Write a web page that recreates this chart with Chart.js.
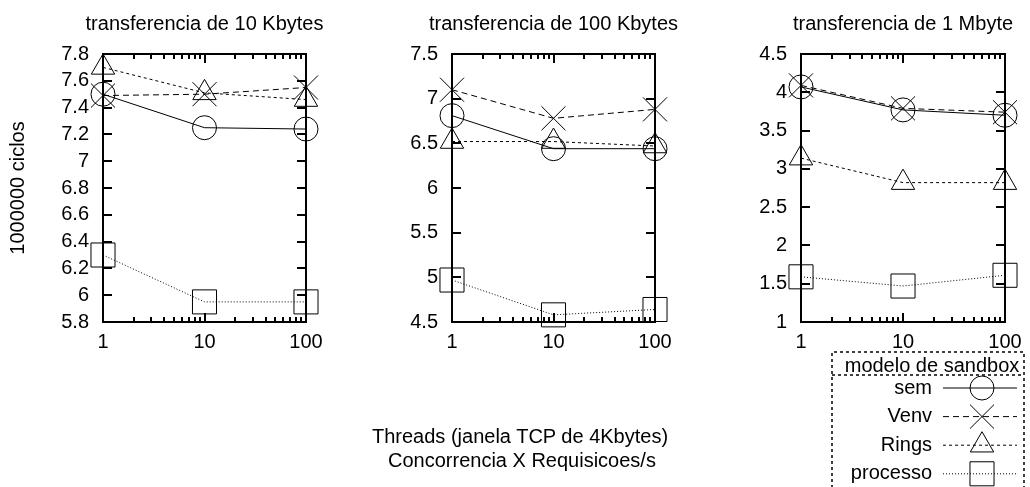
<!DOCTYPE html>
<html>
<head>
<meta charset="utf-8">
<script src="https://cdn.jsdelivr.net/npm/chart.js@4.4.1/dist/chart.umd.min.js"></script>
<style>
  html, body { margin: 0; padding: 0; background: #fff; overflow: hidden; width: 1030px; height: 487px; }
  canvas { position: absolute; top: 0; }
  .xtitle { position: absolute; font: 20px "Liberation Sans", Arial, sans-serif; line-height: 24px; white-space: pre; color: #000; }
</style>
</head>
<body>
<canvas id="c1" width="409" height="487" style="left:0px"></canvas>
<canvas id="c2" width="409" height="487" style="left:349px"></canvas>
<canvas id="c3" width="410" height="487" style="left:698px"></canvas>
<div class="xtitle" style="left:372px;top:424px">Threads (janela TCP de 4Kbytes)</div>
<div class="xtitle" style="left:388px;top:448px">Concorrencia X Requisicoes/s</div>
<script>
// x values and ticks (log axis)
const threads = [1, 10, 100];
const xTickLabels = [1, 10, 100];
const xMinorTicks = [2, 3, 4, 5, 6, 7, 8, 9, 20, 30, 40, 50, 60, 70, 80, 90];
const seriesNames = ['sem', 'Venv', 'Rings', 'processo'];

// transferencia de 10 Kbytes
const sem10k = [7.50, 7.25, 7.24];
const venv10k = [7.49, 7.50, 7.55];
const rings10k = [7.70, 7.51, 7.46];
const processo10k = [6.30, 5.95, 5.95];
const yTicks10k = [5.8, 6, 6.2, 6.4, 6.6, 6.8, 7, 7.2, 7.4, 7.6, 7.8];

// transferencia de 100 Kbytes
const sem100k = [6.81, 6.44, 6.44];
const venv100k = [7.10, 6.78, 6.88];
const rings100k = [6.52, 6.52, 6.47];
const processo100k = [4.97, 4.58, 4.64];
const yTicks100k = [4.5, 5, 5.5, 6, 6.5, 7, 7.5];

// transferencia de 1 Mbyte
const sem1m = [4.07, 3.77, 3.70];
const venv1m = [4.09, 3.79, 3.74];
const rings1m = [3.14, 2.82, 2.82];
const processo1m = [1.59, 1.47, 1.61];
const yTicks1m = [1, 1.5, 2, 2.5, 3, 3.5, 4, 4.5];

Chart.defaults.font.family = '"Liberation Sans", Arial, sans-serif';
Chart.defaults.font.size = 20;
Chart.defaults.color = '#000';

// gnuplot-ish look per series
const pointStyles = ['circle', 'crossRot', 'triangle', 'rect'];
const pointSizes = [12, 17, 13.5, 17];
const lineDashes = [[], [6, 4], [3, 3], [1, 2]];

// frame + inward ticks, like gnuplot's border
const frameTicks = {
  id: 'frameTicks',
  beforeDatasetsDraw(chart) {
    const {ctx, chartArea: a, scales: {x, y}} = chart;
    ctx.save();
    ctx.strokeStyle = '#000';
    ctx.lineWidth = 2;
    ctx.beginPath();
    y.ticks.forEach(t => {
      const py = Math.round(y.getPixelForValue(t.value));
      ctx.moveTo(a.left, py); ctx.lineTo(a.left + 9, py);
      ctx.moveTo(a.right, py); ctx.lineTo(a.right - 9, py);
    });
    x.ticks.forEach(t => {
      const px = Math.round(x.getPixelForValue(t.value));
      ctx.moveTo(px, a.bottom); ctx.lineTo(px, a.bottom - 9);
      ctx.moveTo(px, a.top); ctx.lineTo(px, a.top + 9);
    });
    xMinorTicks.forEach(v => {
      const px = Math.round(x.getPixelForValue(v));
      ctx.moveTo(px, a.bottom); ctx.lineTo(px, a.bottom - 5);
      ctx.moveTo(px, a.top); ctx.lineTo(px, a.top + 5);
    });
    ctx.stroke();
    ctx.strokeRect(a.left, a.top, a.width, a.height);
    ctx.restore();
  }
};

// key box drawn under the third panel (canvas starts at page x 698)
const sandboxLegend = {
  id: 'sandboxLegend',
  afterDraw(chart) {
    const ctx = chart.ctx;
    const boxL = 134, boxR = 326, boxT = 352, sepY = 375;
    ctx.save();
    ctx.strokeStyle = '#000';
    ctx.lineWidth = 1.5;
    ctx.setLineDash([3, 3]);
    ctx.beginPath();
    ctx.moveTo(boxL, 500); ctx.lineTo(boxL, boxT); ctx.lineTo(boxR, boxT); ctx.lineTo(boxR, 500);
    ctx.moveTo(boxL, sepY); ctx.lineTo(boxR, sepY);
    ctx.stroke();
    ctx.fillStyle = '#000';
    ctx.font = '20px "Liberation Sans", Arial, sans-serif';
    ctx.textAlign = 'center';
    ctx.textBaseline = 'alphabetic';
    ctx.fillText('modelo de sandbox', 234, 372);

    seriesNames.forEach((name, i) => {
      const cy = 388 + i * 28.6;
      ctx.fillStyle = '#000';
      ctx.textAlign = 'right';
      ctx.fillText(name, 234, cy + 5.5);
      ctx.lineWidth = 1;
      ctx.setLineDash(lineDashes[i]);
      ctx.beginPath();
      ctx.moveTo(245, cy); ctx.lineTo(319, cy);
      ctx.stroke();
      ctx.setLineDash([]);
      ctx.fillStyle = 'rgba(0,0,0,0)';
      Chart.helpers.drawPoint(ctx, {pointStyle: pointStyles[i], radius: pointSizes[i], rotation: 0, borderWidth: 1}, 284, cy);
    });
    ctx.restore();
  }
};

function makeChart(id, title, series, yTicks, yTitle, extraPlugins) {
  const yMin = yTicks[0], yMax = yTicks[yTicks.length - 1];
  return new Chart(document.getElementById(id), {
    type: 'line',
    data: {
      datasets: series.map((vals, i) => ({
        label: seriesNames[i],
        data: threads.map((t, j) => ({x: t, y: vals[j]})),
        borderColor: '#000',
        borderWidth: 1,
        borderDash: lineDashes[i],
        pointStyle: pointStyles[i],
        pointRadius: pointSizes[i],
        pointBorderColor: '#000',
        pointBackgroundColor: 'rgba(0,0,0,0)',
        pointBorderWidth: 1,
        fill: false,
        tension: 0,
        clip: false
      }))
    },
    options: {
      responsive: false,
      animation: false,
      events: [],
      layout: {padding: {left: 0, right: 0, top: 0, bottom: 125}},
      plugins: {
        legend: {display: false},
        tooltip: {enabled: false},
        title: {display: true, text: title, color: '#000', font: {size: 20, weight: 'normal'}, padding: {top: 12, bottom: 18}}
      },
      scales: {
        x: {
          type: 'logarithmic', min: 1, max: 100,
          grid: {display: false, drawTicks: false},
          border: {display: false},
          afterBuildTicks: s => { s.ticks = xTickLabels.map(v => ({value: v})); },
          afterFit: s => { s.height = 40; s.paddingLeft = 0; s.paddingRight = 0; },
          ticks: {padding: 8, autoSkip: false, maxRotation: 0, callback: v => String(v)}
        },
        y: {
          min: yMin, max: yMax,
          grid: {display: false, drawTicks: false},
          border: {display: false},
          afterBuildTicks: s => { s.ticks = yTicks.map(v => ({value: v})); },
          afterFit: s => { s.width = 103; },
          ticks: {padding: 14, autoSkip: false, callback: v => String(v)},
          title: {display: !!yTitle, text: yTitle || '', font: {size: 20}, padding: {top: 6, bottom: 0}}
        },
        // empty right-hand box so the title stays centred over the plot
        yr: {
          position: 'right', min: yMin, max: yMax,
          grid: {display: false, drawTicks: false},
          border: {display: false},
          ticks: {display: false},
          afterFit: s => { s.width = 103; }
        }
      }
    },
    plugins: [frameTicks].concat(extraPlugins || [])
  });
}

makeChart('c1', 'transferencia de 10 Kbytes', [sem10k, venv10k, rings10k, processo10k], yTicks10k, '1000000 ciclos');
makeChart('c2', 'transferencia de 100 Kbytes', [sem100k, venv100k, rings100k, processo100k], yTicks100k, null);
makeChart('c3', 'transferencia de 1 Mbyte', [sem1m, venv1m, rings1m, processo1m], yTicks1m, null, [sandboxLegend]);
</script>
</body>
</html>
